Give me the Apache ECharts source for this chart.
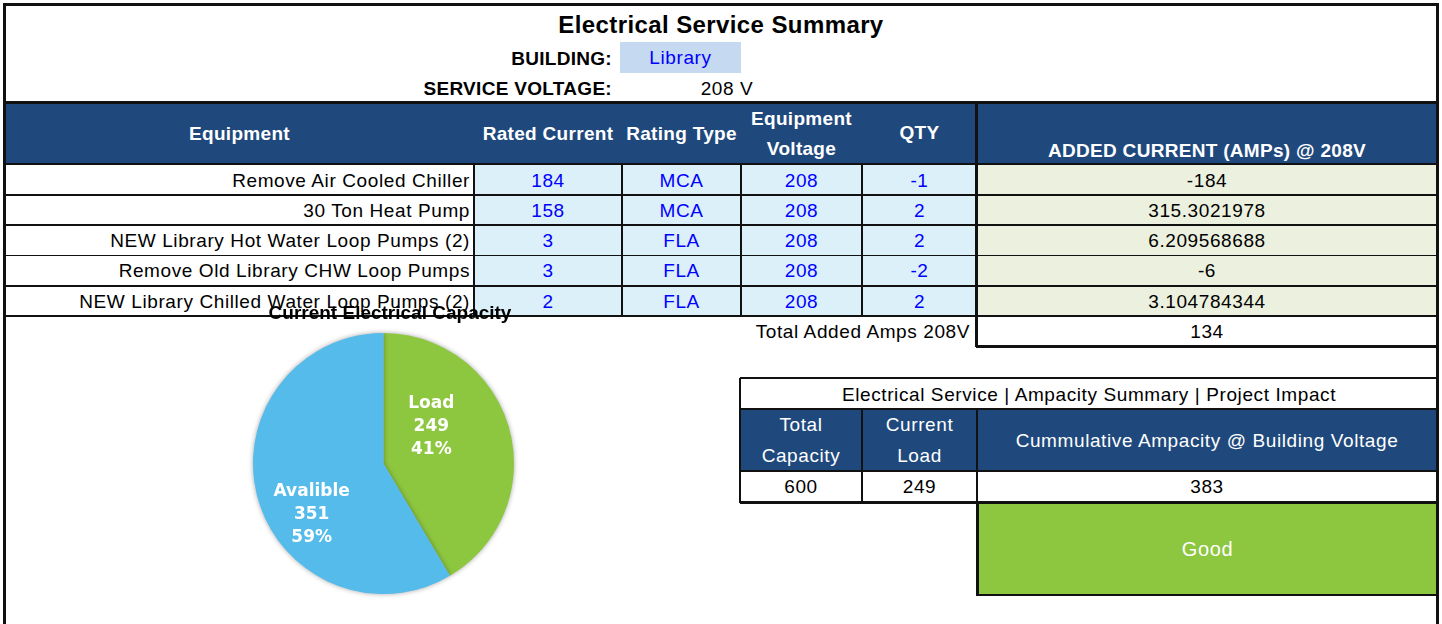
<!DOCTYPE html>
<html>
<head>
<meta charset="utf-8">
<script src="https://cdn.jsdelivr.net/npm/echarts@6/dist/echarts.min.js"></script>
<style>
html, body { margin: 0; padding: 0; background: #fff; }
#sheet { position: relative; width: 1442px; height: 624px; overflow: hidden; font-family: "Liberation Sans", Arial, sans-serif; color: #000; }
.c { position: absolute; box-sizing: border-box; display: flex; align-items: center; justify-content: center; font-size: 19px; letter-spacing: 0.6px; white-space: nowrap; line-height: 1.0; text-align: center; }
.ln { position: absolute; background: #111; }
#pie { position: absolute; left: 0; top: 0; width: 1442px; height: 624px; pointer-events: none; }
</style>
</head>
<body>
<div id="sheet"></div>
<div id="pie"></div>
<script>
// sheet values
const title = 'Electrical Service Summary'
const building = 'Library'
const serviceVoltage = '208 V'
const headers = ['Equipment', 'Rated Current', 'Rating Type', 'Equipment<br>Voltage', 'QTY', 'ADDED CURRENT (AMPs) @ 208V']
const equipment = [
  'Remove Air Cooled Chiller',
  '30 Ton Heat Pump',
  'NEW Library Hot Water Loop Pumps (2)',
  'Remove Old Library CHW Loop Pumps',
  'NEW Library Chilled Water Loop Pumps (2)'
]
const ratedCurrent = [184, 158, 3, 3, 2]
const ratingType = ['MCA', 'MCA', 'FLA', 'FLA', 'FLA']
const equipVoltage = [208, 208, 208, 208, 208]
const qty = [-1, 2, 2, -2, 2]
const addedCurrent = ['-184', '315.3021978', '6.209568688', '-6', '3.104784344']
const totalAdded = 134
const summaryTitle = 'Electrical Service | Ampacity Summary | Project Impact'
const summaryHeaders = ['Total<br>Capacity', 'Current<br>Load', 'Cummulative Ampacity @ Building Voltage']
const summaryValues = [600, 249, 383]
const status = 'Good'

// pie values
const pieTitle = 'Current Electrical Capacity'
const pieNames = ['Load', 'Avalible']
const pieValues = [249, 351]
const piePercents = ['41%', '59%']

const DARK_BLUE = '#1f497d'
const LIGHT_BLUE = '#dcf0fa'
const LIGHT_GREEN = '#ebf1de'
const GREEN = '#8dc63f'
const SKY = '#55bbea'
const INPUT_BLUE = '#0000ff'

const sheet = document.getElementById('sheet')

function cell(x, y, w, h, html, css) {
  const d = document.createElement('div')
  d.className = 'c'
  d.style.left = x + 'px'
  d.style.top = y + 'px'
  d.style.width = w + 'px'
  d.style.height = h + 'px'
  d.innerHTML = html
  Object.assign(d.style, css || {})
  sheet.appendChild(d)
  return d
}
function line(x, y, w, h, color) {
  const d = document.createElement('div')
  d.className = 'ln'
  d.style.left = x + 'px'
  d.style.top = y + 'px'
  d.style.width = w + 'px'
  d.style.height = h + 'px'
  if (color) d.style.background = color
  sheet.appendChild(d)
}

// title block
cell(5, 8, 1432, 34, title, { fontSize: '24px', letterSpacing: '0.4px', fontWeight: 'bold' })
cell(300, 43, 314, 30, 'BUILDING:', { justifyContent: 'flex-end', fontWeight: 'bold', letterSpacing: '0.3px', paddingRight: '2px' })
cell(620, 42, 121, 31, building, { background: '#c5d9f1', color: INPUT_BLUE })
cell(300, 73, 314, 30, 'SERVICE VOLTAGE:', { justifyContent: 'flex-end', fontWeight: 'bold', letterSpacing: '0.3px', paddingRight: '2px' })
cell(660, 73, 134, 30, serviceVoltage)

// main table
const colX = [5, 474, 622, 741, 862, 977, 1437]
cell(5, 104, 1432, 60, '', { background: DARK_BLUE })
headers.forEach((h, i) => {
  const css = { color: '#fff', fontWeight: 'bold', lineHeight: '30px', letterSpacing: '0.3px' }
  if (i === 5) css.paddingTop = '34px'
  if (i === 4) css.paddingBottom = '3px'
  cell(colX[i], 104, colX[i + 1] - colX[i], 60, h, css)
})

const rowY = [165, 195, 225, 255.5, 286, 316]
const rowH = 30
equipment.forEach((name, r) => {
  const y = rowY[r]
  cell(colX[0], y, colX[1] - colX[0], rowH, name, { justifyContent: 'flex-end', paddingRight: '4px' })
  const vals = [ratedCurrent[r], ratingType[r], equipVoltage[r], qty[r]]
  vals.forEach((v, i) => {
    cell(colX[i + 1], y, colX[i + 2] - colX[i + 1], rowH, String(v), { background: LIGHT_BLUE, color: INPUT_BLUE })
  })
  cell(colX[5], y, colX[6] - colX[5], rowH, addedCurrent[r], { background: LIGHT_GREEN })
})
cell(600, 316, 373, 30, 'Total Added Amps 208V', { justifyContent: 'flex-end', paddingRight: '3px' })
cell(977, 316, 460, 30, String(totalAdded))

// main table lines
line(3, 101, 1436, 3)
line(5, 163, 1432, 2)
;[194, 224, 254.5, 285, 315].forEach(y => line(5, y, 971, 1.5))
;[194, 224, 254.5, 285, 315].forEach(y => line(977, y, 460, 1.5))
line(976, 345, 461, 2.5)
;[473, 621, 740, 861].forEach(x => line(x, 165, 1.5, 151))
line(975, 104, 3, 243)

// summary table
const sx = [740, 862, 977, 1437]
line(740, 377, 697, 2)
cell(741, 379, 696, 30, summaryTitle)
cell(741, 409, 696, 62, '', { background: DARK_BLUE })
summaryHeaders.forEach((h, i) => {
  cell(sx[i], 409, sx[i + 1] - sx[i], 62, h, { color: '#fff', lineHeight: '31px' })
})
summaryValues.forEach((v, i) => {
  cell(sx[i], 471, sx[i + 1] - sx[i], 31, String(v))
})
line(740, 408, 697, 1.5)
line(740, 470, 697, 1.5)
line(739, 378, 2, 125)
line(861, 409, 2, 93)
line(976, 409, 2, 93)
line(740, 501, 697, 3)
cell(978, 504, 459, 90, status, { background: GREEN, color: '#fff', fontSize: '20px' })
line(976, 502, 2.5, 94)
line(976, 594, 461, 2)

// outer frame
line(3, 3, 1436, 2.5)
line(3, 3, 2.5, 621)
line(1436, 3, 2.5, 621)

// pie
const chart = echarts.init(document.getElementById('pie'), null, { renderer: 'canvas' })
const labelShift = [[-18, -19], [-6, 33]]
chart.setOption({
  backgroundColor: 'transparent',
  animation: false,
  title: {
    text: pieTitle,
    left: 385,
    top: 299,
    textAlign: 'center',
    textStyle: { fontFamily: 'Liberation Sans', fontSize: 19, fontWeight: 'bold', color: '#000' }
  },
  series: [{
    type: 'pie',
    center: [383.5, 463.5],
    radius: 130.5,
    startAngle: 90,
    clockwise: true,
    silent: true,
    itemStyle: {
      shadowBlur: 5,
      shadowColor: 'rgba(0,0,0,0.35)'
    },
    label: {
      position: 'inside',
      formatter: p => p.name + '\n' + p.value + '\n' + piePercents[p.dataIndex],
      color: '#fff',
      fontFamily: 'DejaVu Sans',
      fontWeight: 'bold',
      fontSize: 17,
      lineHeight: 23
    },
    labelLine: { show: false },
    data: pieNames.map((n, i) => ({
      name: n,
      value: pieValues[i],
      itemStyle: { color: i === 0 ? GREEN : SKY },
      label: { offset: labelShift[i] }
    }))
  }]
})
</script>
</body>
</html>
